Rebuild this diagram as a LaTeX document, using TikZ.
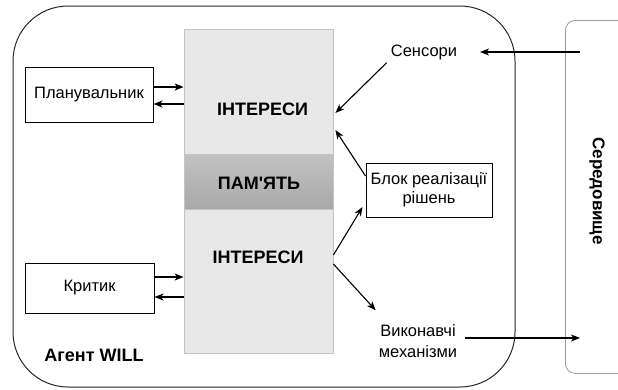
\documentclass[tikz,border=0pt]{standalone}
\usepackage{fontspec}
\setmainfont{Liberation Sans}[Ligatures=TeXOff]
\usetikzlibrary{arrows.meta,calc}
\definecolor{secfill}{HTML}{E8E8E8}
\definecolor{secedge}{HTML}{C4C4C4}
\definecolor{memtop}{HTML}{C2C2C2}
\definecolor{membot}{HTML}{A9A9A9}
\definecolor{envedge}{HTML}{9A9A9A}
\begin{document}
\begin{tikzpicture}[x=1pt,y=-1pt,
  txt/.style={font=\fontsize{16.5}{19}\selectfont, align=center, inner sep=2pt},
  hdr/.style={font=\fontsize{18}{20}\selectfont\bfseries, inner sep=0pt},
  box/.style={draw=black, line width=1pt, fill=white, font=\fontsize{16.5}{19}\selectfont, align=center, inner sep=0pt},
  section/.style={draw=secedge, line width=0.8pt, fill=secfill, inner sep=0pt},
  link/.style={draw=black, line width=1.1pt, -{Stealth[length=9pt,width=7pt,inset=2.5pt]}}
]
\useasboundingbox (0,0) rectangle (618,389);
\fill[white] (0,0) rectangle (618,389);

% agent frame and environment
\draw[line width=1pt, draw=black!85, rounded corners=55pt] (13,6) rectangle (515,387);
\node[draw=envedge, line width=0.8pt, rounded corners=10pt, minimum width=80pt, minimum height=353pt, anchor=north west, inner sep=0pt] (env) at (565,20) {};
\node[hdr, font=\fontsize{17}{20}\selectfont\bfseries, rotate=-90] (envlbl) at (597,191) {Середовище};

% central memory column
\node[section, minimum width=149pt, minimum height=125pt] (intA) at (258.5,91.5) {};
\node[section, minimum width=149pt, minimum height=144pt] (intB) at (258.5,281) {};
\node[draw=secedge, line width=0.8pt, top color=memtop, bottom color=membot, minimum width=149pt, minimum height=55pt, inner sep=0pt] (mem) at (258.5,181.5) {};
\node[hdr] (intAlbl) at (262.5,109) {ІНТЕРЕСИ};
\node[hdr] (memlbl) at (259,183) {ПАМ'ЯТЬ};
\node[hdr] (intBlbl) at (258,257) {ІНТЕРЕСИ};

% side blocks
\node[box, minimum width=128pt, minimum height=55pt] (plan) at (89,94.5) {Планувальник};
\node[box, minimum width=129pt, minimum height=50pt] (crit) at (89.5,288) {Критик};
\node[box, minimum width=126pt, minimum height=54pt] (blok) at (429,190) {Блок реалізації\\рішень};

% free-standing labels
\node[txt] (sens) at (424,52) {Сенсори};
\node[txt, font=\fontsize{16.5}{21}\selectfont] (vyk) at (418,341) {Виконавчі\\механізми};
\node[hdr] (agent) at (94,355) {Агент WILL};
\coordinate (sensIn) at (480,52);
\coordinate (vykOut) at (465,338);

% planner and critic exchange
\draw[link] ([yshift=7.5pt]plan.east) -- ([yshift=7.5pt]plan.east -| intA.west);
\draw[link] ([yshift=-9.5pt]plan.east -| intA.west) -- ([yshift=-9.5pt]plan.east);
\draw[link] ([yshift=11pt]crit.east) -- ([yshift=11pt]crit.east -| intB.west);
\draw[link] ([yshift=-9pt]crit.east -| intB.west) -- ([yshift=-9pt]crit.east);

% perception
\draw[link] ([xshift=15pt]env.west |- sensIn) -- (sensIn);
\draw[link] ([shift={(-2pt,-1pt)}]sens.south west) -- ([shift={(2pt,-21.5pt)}]intA.east);
\draw[link] ([yshift=14pt]blok.west) -- ([shift={(2pt,-38.5pt)}]intA.east);

% action
\draw[link] ([yshift=26pt]intB.east) -- ([shift={(-3pt,-17pt)}]blok.west);
\draw[link] ([yshift=17pt]intB.east) -- ([shift={(-1pt,12pt)}]vyk.north west);
\draw[link] (vykOut) -- ([xshift=15pt]env.west |- vykOut);
\end{tikzpicture}
\end{document}
